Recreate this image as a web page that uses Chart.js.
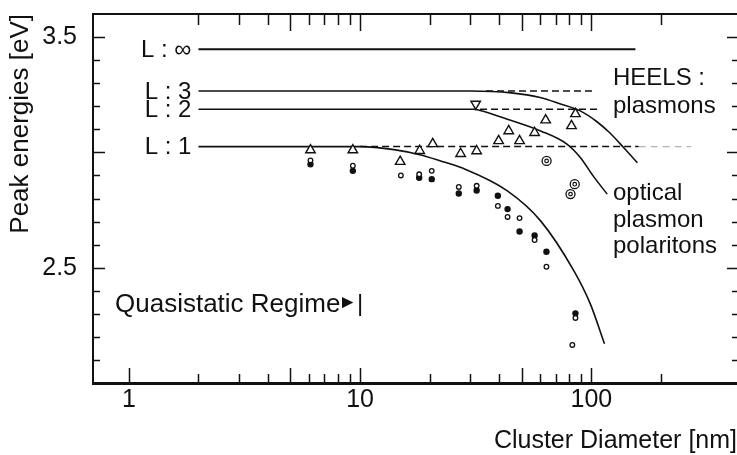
<!DOCTYPE html>
<html lang="en">
<head>
<meta charset="UTF-8" />
<title>Peak energies vs cluster diameter</title>
<script src="https://cdn.jsdelivr.net/npm/chart.js"></script>
<style>
  html, body { margin: 0; padding: 0; background: #fff; }
</style>
</head>
<body>
<canvas id="peakChart" width="737" height="455"></canvas>
<script>
// axis ticks
const xTickValues = [1, 2, 3, 4, 5, 6, 7, 8, 9, 10, 20, 30, 40, 50, 60, 70, 80, 90, 100, 200];
const xMajorTicks = [1, 5, 10, 50, 100];
const xLabelled = [1, 10, 100];
const yTickValues = [2.1, 2.2, 2.3, 2.4, 2.5, 2.6, 2.7, 2.8, 2.9, 3.0, 3.1, 3.2, 3.3, 3.4, 3.5];
const yMajorTicks = [2.5, 3.0, 3.5];
const yLabelled = [2.5, 3.5];

// HEELS levels
const levelLabels = ["L : \u221E", "L : 3", "L : 2", "L : 1"];
const levelEnergy = [3.447, 3.266, 3.187, 3.025];

// solid curves (level lines bending down)
const lInfX = [2, 155];
const lInfY = [3.447, 3.447];
const l3X = [2, 30, 45, 60, 73.5, 89.5, 105, 120, 138, 158];
const l3Y = [3.266, 3.266, 3.258, 3.238, 3.21, 3.18, 3.135, 3.085, 3.02, 2.955];
const l2X = [2, 31, 32.7, 43.3, 60.3, 78.6, 89.7, 101.7, 117];
const l2Y = [3.187, 3.187, 3.183, 3.144, 3.093, 3.035, 2.977, 2.898, 2.819];
const l1X = [2, 10, 14, 18.1, 22.3, 27.3, 43.3, 60.3, 83.9, 98.8, 113.9];
const l1Y = [3.025, 3.025, 3.012, 2.99, 2.963, 2.934, 2.833, 2.703, 2.487, 2.344, 2.17];

// dashed continuations
const d3X = [35, 104];
const d3Y = [3.266, 3.266];
const d2X = [33, 106];
const d2Y = [3.187, 3.187];
const d1X = [10, 160];
const d1Y = [3.025, 3.025];
const d1FaintX = [160, 270];
const d1FaintY = [3.025, 3.025];

// HEELS data (triangles)
const heelsX = [6.1, 9.3, 14.9, 18.1, 20.6, 27.2, 31.9, 39.7, 43.9, 48.9, 56.8, 63.4, 82, 85.3];
const heelsY = [3.01, 3.01, 2.96, 3.007, 3.037, 2.994, 3.006, 3.05, 3.093, 3.05, 3.085, 3.14, 3.115, 3.167];
const heelsDownX = [31.6];
const heelsDownY = [3.21];

// optical data
const openX = [6.1, 9.3, 15.0, 18.0, 20.4, 26.7, 31.9, 39.4, 43.4, 48.9, 56.8, 63.9, 85.3, 82.7];
const openY = [2.965, 2.942, 2.90, 2.905, 2.92, 2.85, 2.855, 2.768, 2.72, 2.715, 2.62, 2.504, 2.282, 2.165];
const filledX = [6.1, 9.3, 18.0, 20.4, 26.7, 31.9, 39.4, 43.4, 48.9, 56.8, 63.9, 85.3];
const filledY = [2.948, 2.92, 2.89, 2.884, 2.822, 2.835, 2.812, 2.754, 2.657, 2.64, 2.569, 2.302];
const ringX = [64, 81.2, 84.7];
const ringY = [2.963, 2.819, 2.862];

const ink = "#111";
const fontFamily = '"Liberation Sans", Arial, Helvetica, sans-serif';

function pts(xs, ys) {
  return xs.map((x, i) => ({ x: x, y: ys[i] }));
}

function markers(xs, ys, style, extra) {
  return Object.assign({
    data: pts(xs, ys),
    showLine: false,
    pointStyle: style,
    borderColor: ink,
    backgroundColor: "#fff",
    pointBorderWidth: 1.4,
    pointHoverRadius: 0
  }, extra);
}

function curve(xs, ys, extra) {
  return Object.assign({
    data: pts(xs, ys),
    showLine: true,
    pointRadius: 0,
    pointHoverRadius: 0,
    borderColor: ink,
    borderWidth: 1.6,
    cubicInterpolationMode: "monotone"
  }, extra);
}

// no extra label padding, so the plot box sits where the figure has it
function noPad(s) {
  s.paddingTop = 0;
  s.paddingBottom = 0;
  s.paddingLeft = 0;
  s.paddingRight = 0;
}

// frame, inward ticks and text notes
const frameAndNotes = {
  id: "frameAndNotes",
  afterDraw(chart) {
    const { ctx, chartArea: a, scales: { x, y } } = chart;
    ctx.save();
    ctx.strokeStyle = ink;
    ctx.fillStyle = ink;

    ctx.lineWidth = 2;
    ctx.beginPath();
    ctx.moveTo(a.left, a.top);
    ctx.lineTo(a.right, a.top);
    ctx.stroke();

    ctx.lineWidth = 1.5;
    ctx.beginPath();
    xTickValues.forEach(v => {
      const px = Math.round(x.getPixelForValue(v)) + 0.5;
      const big = xMajorTicks.includes(v);
      ctx.moveTo(px, a.bottom);
      ctx.lineTo(px, a.bottom - (big ? 15 : 9));
      if (v > 1) {
        ctx.moveTo(px, a.top);
        ctx.lineTo(px, a.top + (big ? 17 : 11));
      }
    });
    yTickValues.forEach(v => {
      const py = Math.round(y.getPixelForValue(v)) + 0.5;
      const big = yMajorTicks.includes(v);
      ctx.moveTo(a.left, py);
      ctx.lineTo(a.left + (big ? 12 : 7), py);
      ctx.moveTo(a.right, py);
      ctx.lineTo(a.right - (big ? 10 : 5), py);
    });
    ctx.stroke();

    ctx.font = "24px " + fontFamily;
    ctx.textAlign = "right";
    ctx.textBaseline = "middle";
    const labelX = x.getPixelForValue(2) - 7;
    levelLabels.forEach((t, i) => {
      ctx.fillText(t, labelX, y.getPixelForValue(levelEnergy[i]) + 1);
    });

    ctx.textAlign = "left";
    ctx.textBaseline = "alphabetic";
    ctx.fillText("HEELS :", 613, 85);
    ctx.fillText("plasmons", 613, 113);
    ctx.fillText("optical", 613, 200);
    ctx.fillText("plasmon", 613, 227);
    ctx.fillText("polaritons", 613, 253);

    // regime note ends with a small arrow and a bar at 10 nm
    const barX = x.getPixelForValue(10);
    ctx.font = "26px " + fontFamily;
    ctx.fillText("Quasistatic Regime", 115, 312);
    ctx.textAlign = "right";
    ctx.font = "24px " + fontFamily;
    ctx.fillText("|", barX + 3, 311);
    ctx.font = "19px " + fontFamily;
    ctx.fillText("\u25BA", barX - 3, 308);
    ctx.restore();
  }
};

new Chart(document.getElementById("peakChart"), {
  type: "scatter",
  data: {
    datasets: [
      markers(heelsX, heelsY, "triangle", { pointRadius: 5.5 }),
      markers(heelsDownX, heelsDownY, "triangle", { pointRadius: 5.5, pointRotation: 180 }),
      markers(openX, openY, "circle", { pointRadius: 2.3, pointBorderWidth: 1.3 }),
      markers(filledX, filledY, "circle", { pointRadius: 2.5, backgroundColor: ink }),
      markers(ringX, ringY, "circle", { pointRadius: 1.8, pointBorderWidth: 1.2 }),
      markers(ringX, ringY, "circle", { pointRadius: 4.5, pointBorderWidth: 1.3 }),
      curve(lInfX, lInfY, { borderWidth: 2 }),
      curve(l3X, l3Y),
      curve(l2X, l2Y),
      curve(l1X, l1Y),
      curve(d3X, d3Y, { borderDash: [7, 4], borderWidth: 1.5 }),
      curve(d2X, d2Y, { borderDash: [7, 4], borderWidth: 1.5 }),
      curve(d1X, d1Y, { borderDash: [7, 4], borderWidth: 1.5 }),
      curve(d1FaintX, d1FaintY, { borderDash: [7, 5], borderWidth: 1.2, borderColor: "rgba(0,0,0,0.3)" })
    ]
  },
  options: {
    responsive: false,
    animation: false,
    layout: { autoPadding: false, padding: { top: 14, right: 0, bottom: 0, left: 0 } },
    plugins: {
      legend: { display: false },
      tooltip: { enabled: false }
    },
    scales: {
      x: {
        type: "logarithmic",
        min: 0.713,
        max: 426,
        afterFit: s => { s.height = 72; noPad(s); },
        afterBuildTicks: s => { s.ticks = xTickValues.map(v => ({ value: v })); },
        grid: { display: false, drawTicks: false },
        border: { display: true, width: 3, color: ink },
        ticks: {
          autoSkip: false,
          maxRotation: 0,
          padding: 2,
          color: ink,
          font: { family: fontFamily, size: 25 },
          callback: v => (xLabelled.includes(v) ? String(v) : "")
        },
        title: {
          display: true,
          text: "Cluster Diameter [nm]",
          align: "end",
          color: ink,
          padding: 0,
          font: { family: fontFamily, size: 25, lineHeight: 1.1 }
        }
      },
      y: {
        min: 2.0,
        max: 3.6,
        afterFit: s => { s.width = 93; noPad(s); },
        afterBuildTicks: s => { s.ticks = yLabelled.map(v => ({ value: v })); },
        grid: { display: false, drawTicks: false },
        border: { display: true, width: 2, color: ink },
        ticks: {
          padding: 16,
          color: ink,
          font: { family: fontFamily, size: 25 },
          callback: v => v.toFixed(1)
        },
        title: {
          display: true,
          text: "Peak energies [eV]",
          align: "end",
          color: ink,
          padding: { top: 5, bottom: 0 },
          font: { family: fontFamily, size: 26, lineHeight: 1.2 }
        }
      }
    }
  },
  plugins: [frameAndNotes]
});
</script>
</body>
</html>
